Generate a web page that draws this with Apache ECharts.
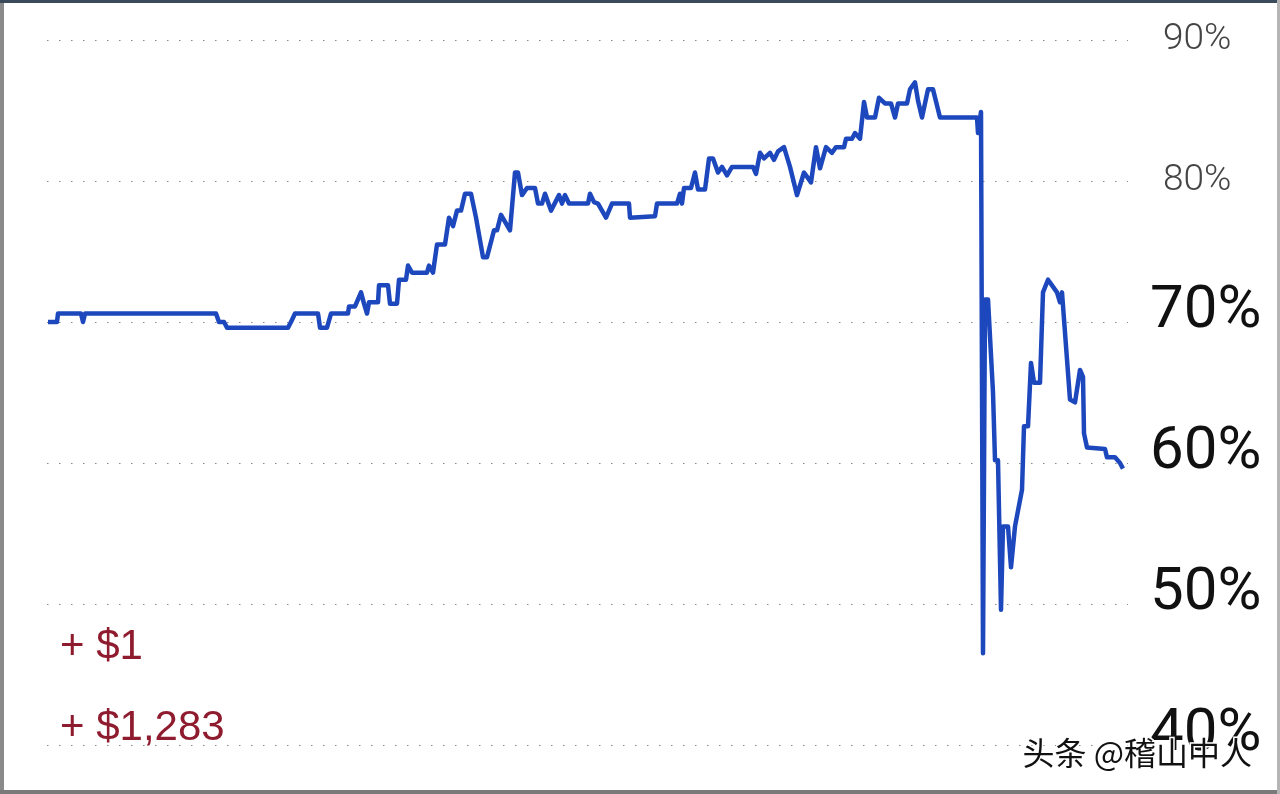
<!DOCTYPE html>
<html>
<head>
<meta charset="utf-8">
<script src="https://cdn.jsdelivr.net/npm/echarts@6/dist/echarts.min.js"></script>
<style>
  html, body { margin: 0; padding: 0; background: #fff; }
  #chart { width: 1280px; height: 794px; }
</style>
</head>
<body>
<div id="chart"></div>
<script>
// 时间位置（横轴，任意刻度）
const xs = [1, 10, 11, 34, 36, 38, 169, 172, 177, 180, 241, 244, 248, 271, 273, 280, 284, 301, 302, 308,
  314, 317, 320, 322, 331, 332, 341, 343, 350, 352, 359, 361, 365, 380, 382, 386, 390, 398, 402, 406,
  410, 414, 418, 424, 429, 436, 440, 447, 450, 454, 463, 468, 471, 475, 480, 488, 491, 495, 498, 504,
  512, 515, 518, 522, 541, 543, 547, 551, 559, 565, 582, 583, 608, 610, 630, 633, 635, 637, 644, 648,
  651, 658, 662, 666, 671, 675, 680, 685, 706, 709, 713, 717, 723, 727, 731, 737, 743, 750, 757, 764,
  769, 773, 779, 785, 789, 797, 799, 805, 808, 813, 817, 820, 828, 832, 838, 844, 848, 851, 860, 863,
  868, 871, 875, 881, 886, 893, 930, 931, 934, 936, 938, 941, 946, 948, 951, 954, 956, 961, 964, 968,
  975, 977, 981, 984, 987, 993, 996, 1001, 1010, 1013, 1015, 1023, 1028, 1033, 1036, 1037, 1040, 1058, 1060, 1068,
  1073, 1076];
// 百分比
const ys = [70.0, 70.0, 70.6, 70.6, 70.0, 70.6, 70.6, 70.0, 70.0, 69.6, 69.6, 70.0, 70.6, 70.6, 69.6, 69.6, 70.6, 70.6, 71.1, 71.1,
  72.1, 71.3, 70.6, 71.4, 71.4, 72.6, 72.6, 71.3, 71.3, 73.0, 73.0, 74.0, 73.5, 73.5, 74.0, 73.5, 75.5, 75.5, 77.4, 76.8,
  77.9, 77.9, 79.1, 79.1, 77.4, 74.6, 74.6, 76.5, 76.5, 77.6, 76.5, 80.6, 80.6, 79.0, 79.5, 79.5, 78.4, 78.4, 79.1, 77.9,
  79.0, 78.4, 79.0, 78.4, 78.4, 79.1, 78.5, 78.4, 77.4, 78.4, 78.4, 77.4, 77.5, 78.4, 78.4, 79.1, 78.4, 79.5, 79.5, 80.6,
  79.4, 79.4, 81.6, 81.6, 80.6, 81.0, 80.4, 81.0, 81.0, 80.5, 82.0, 81.6, 82.0, 81.5, 82.1, 82.4, 81.0, 79.0, 80.6, 79.9,
  82.4, 80.9, 82.4, 82.0, 82.4, 82.4, 83.0, 83.0, 83.4, 83.0, 85.6, 84.5, 84.5, 85.9, 85.5, 85.5, 84.5, 85.5, 85.5, 86.5,
  87.0, 85.7, 84.5, 86.5, 86.5, 84.5, 84.5, 83.4, 84.9, 46.5, 71.6, 71.6, 65.0, 60.2, 60.2, 49.6, 55.5, 55.5, 52.6, 55.5,
  58.1, 62.6, 62.6, 67.1, 65.7, 65.7, 72.1, 73.0, 72.1, 71.4, 72.1, 64.5, 64.3, 66.6, 66.1, 62.1, 61.1, 61.0, 60.4, 60.4,
  60.0, 59.6];
const yTicks = [40, 50, 60, 70, 80, 90];
const gains = ["+ $1", "+ $1,283"];
const watermark = "头条 @稽山中人";

const chart = echarts.init(document.getElementById("chart"));
const seriesData = xs.map((x, i) => [x, ys[i]]);

chart.setOption({
  backgroundColor: "#fff",
  animation: false,
  grid: { left: 47, right: 152, top: 40, bottom: 49, containLabel: false },
  xAxis: {
    type: "value",
    min: 0,
    max: 1081,
    show: false
  },
  yAxis: {
    type: "value",
    position: "right",
    min: yTicks[0],
    max: yTicks[yTicks.length - 1],
    interval: 10,
    axisLine: { show: false },
    axisTick: { show: false },
    axisLabel: {
      margin: 22,
      formatter: function (v) {
        return v >= 80 ? "{s|" + v + "%}" : "{b|" + v + "%}";
      },
      rich: {
        s: {
          fontFamily: "Roboto",
          fontWeight: 300,
          fontSize: 37,
          color: "#444",
          padding: [0, 0, 0, 13]
        },
        b: {
          fontFamily: "Roboto",
          fontWeight: 400,
          fontSize: 60,
          color: "#111",
          padding: [0, 0, 20, 0]
        }
      }
    },
    splitLine: {
      show: true,
      lineStyle: { color: "#888", width: 1.2, type: [1.5, 10.5] }
    }
  },
  series: [
    {
      type: "line",
      data: seriesData,
      showSymbol: false,
      lineStyle: { color: "#1d48bd", width: 4.5, join: "round" },
      z: 3
    }
  ],
  graphic: [
    { type: "text", left: 60, top: 626, style: { text: gains[0], font: "42px 'Liberation Sans', Arial", fill: "#8e1b2e" } },
    { type: "text", left: 60, top: 707, style: { text: gains[1], font: "42px 'Liberation Sans', Arial", fill: "#8e1b2e" } },
    {
      type: "text", left: 1021, top: 735, z: 100,
      style: { text: watermark, font: "32px 'Noto Sans CJK SC'", fill: "#111", stroke: "#fff", lineWidth: 3 }
    },
    { type: "rect", shape: { x: 0, y: 0, width: 4, height: 794 }, style: { fill: "#8a8a8a" } },
    { type: "rect", shape: { x: 0, y: 0, width: 1280, height: 3 }, style: { fill: "#3a4a5a" } },
    { type: "rect", shape: { x: 0, y: 790, width: 1280, height: 4 }, style: { fill: "#7a7a7a" } },
    { type: "rect", shape: { x: 1277, y: 0, width: 3, height: 794 }, style: { fill: "#b5b5b5" } }
  ]
});
</script>
</body>
</html>
